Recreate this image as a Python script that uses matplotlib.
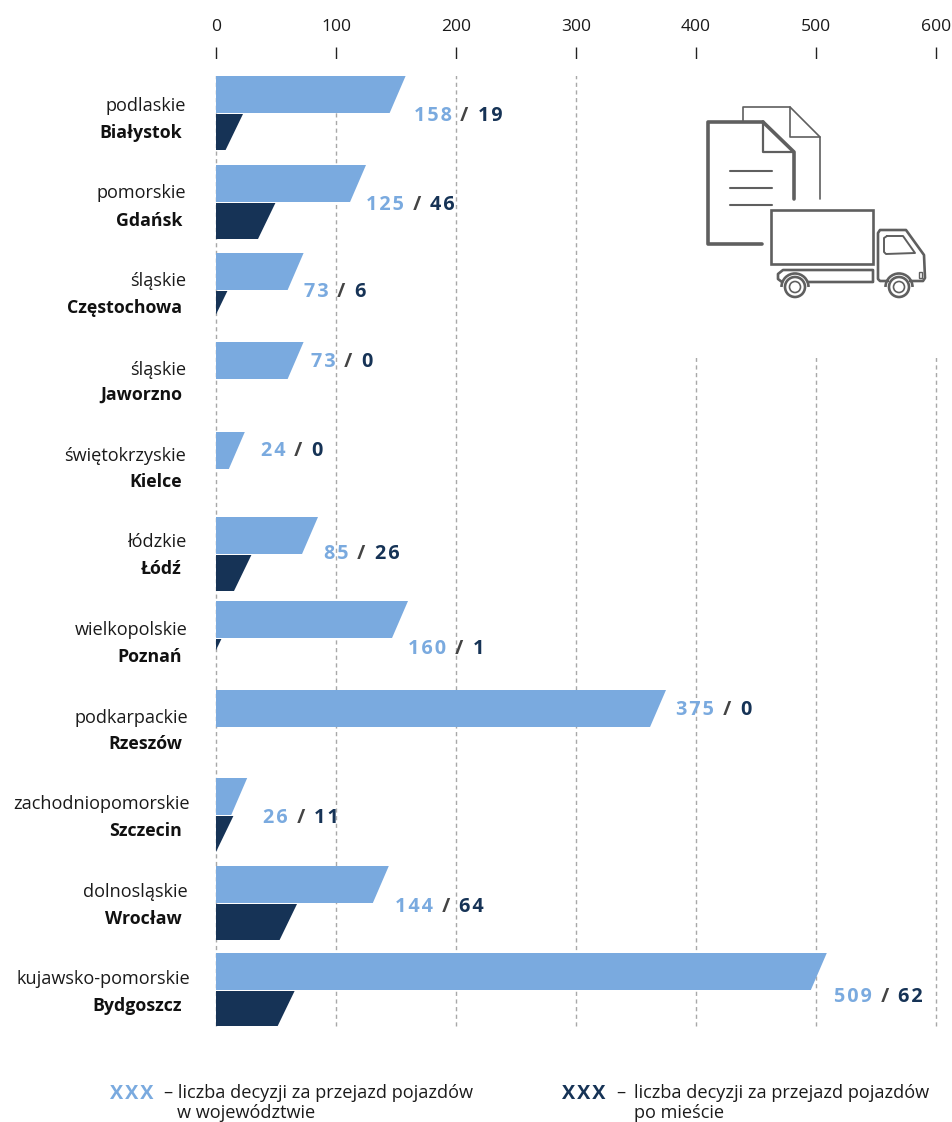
import matplotlib
matplotlib.use("Agg")
import matplotlib.pyplot as plt
from matplotlib.patches import Polygon, Rectangle, Circle, Arc

plt.rcParams['font.family'] = ['Open Sans', 'DejaVu Sans']

regions = ['podlaskie', 'pomorskie', 'śląskie', 'śląskie', 'świętokrzyskie', 'łódzkie',
           'wielkopolskie', 'podkarpackie', 'zachodniopomorskie', 'dolnosląskie', 'kujawsko-pomorskie']
cities = ['Białystok', 'Gdańsk', 'Częstochowa', 'Jaworzno', 'Kielce', 'Łódź',
          'Poznań', 'Rzeszów', 'Szczecin', 'Wrocław', 'Bydgoszcz']
region_decisions = [158, 125, 73, 73, 24, 85, 160, 375, 26, 144, 509]
city_decisions = [19, 46, 6, 0, 0, 26, 1, 0, 11, 64, 62]
ticks = [0, 100, 200, 300, 400, 500, 600]

LIGHT = '#7aaadf'
DARK = '#163356'
GREY = '#5f5f5f'
HAIR = '\u200a'
FS = 13.1
FSB = 12.8
FSV = 14.2

# layout, in pixels of the picture
W, H = 953, 1122
X0, PX = 216, 1.2
bar_tops = [76, 165, 253, 342, 432, 517, 601, 690, 778, 866, 953]
region_y = [106, 193, 281, 370, 456, 542, 630, 718, 804, 892, 979]
region_x = [186, 186, 186, 186, 186, 186, 188, 188, 190, 188, 190]
city_y = [133, 221, 308, 395, 482, 569, 657, 744, 831, 919, 1006]
label_y = [116, 205, 292, 362, 451, 554, 649, 710, 818, 907, 997]
label_gap = [8, 0, 0, 7, 16, 6, 0, 10, 16, 6, 7]

fig = plt.figure(figsize=(W / 100, H / 100), dpi=100)
fig.patch.set_facecolor('white')
top, bottom = 59, 1026
ax = fig.add_axes([X0 / W, 1 - bottom / H, 720 / W, (bottom - top) / H])
ax.set_xlim(0, 600)
ax.set_ylim(bottom, top)
for s in ax.spines.values():
    s.set_visible(False)
ax.set_xticks(ticks)
ax.set_yticks([])
ax.xaxis.tick_top()
ax.tick_params(axis='x', length=8.6, width=1, color='#222222', labelsize=12.6, labelcolor='#1a1a1a', pad=8.5)
ax.grid(axis='x', color='#a8a8a8', linestyle=(0, (3, 2.5)), linewidth=1, clip_on=False)
ax.set_axisbelow(True)

# white areas that hide the grid
ax.add_patch(Rectangle((-5, top), 610, 17, fc='white', ec='none', zorder=1, clip_on=False))
ax.add_patch(Rectangle((345, top), 270, 299, fc='white', ec='none', zorder=1, clip_on=False))


def skew_bar(value, y0, y1, offset, colour):
    # right edge leans: top end is longer than the bottom end
    right_top = value + offset[0]
    right_bot = value + offset[0] - offset[1]
    if right_bot >= 0:
        pts = [(0, y0), (right_top, y0), (right_bot, y1), (0, y1)]
    else:
        cut = y0 + (y1 - y0) * right_top / offset[1]
        pts = [(0, y0), (right_top, y0), (0, cut)]
    ax.add_patch(Polygon(pts, closed=True, fc=colour, ec='none', zorder=2))


for i in range(len(regions)):
    t = bar_tops[i]
    skew_bar(region_decisions[i], t, t + 37, (0, 13.3), LIGHT)
    if city_decisions[i] > 0:
        skew_bar(city_decisions[i], t + 38, t + 74, (3.5, 14.5), DARK)

# overlay in picture pixels for the labels, legend and icon
ov = fig.add_axes([0, 0, 1, 1], facecolor='none')
ov.set_xlim(0, W)
ov.set_ylim(H, 0)
ov.axis('off')


def spaced(v):
    return HAIR.join(str(v))


for i in range(len(regions)):
    ov.text(region_x[i], region_y[i], regions[i], ha='right', va='center', fontsize=FS, color='#1a1a1a')
    ov.text(182, city_y[i], cities[i], ha='right', va='center', fontsize=FSB, fontweight='bold', color='#111111')
    sx = X0 + region_decisions[i] * PX + label_gap[i]
    a = ov.text(sx, label_y[i], spaced(region_decisions[i]), ha='left', va='center', fontsize=FSV,
                fontweight='bold', color=LIGHT)
    b = ov.annotate(HAIR + HAIR + ' / ' + HAIR + HAIR, xy=(1, 0.5), xycoords=a, va='center', ha='left',
                    fontsize=FSV, fontweight='bold', color='#444444')
    ov.annotate(spaced(city_decisions[i]), xy=(1, 0.5), xycoords=b, va='center', ha='left', fontsize=FSV,
                fontweight='bold', color=DARK)

# legend
ov.text(110, 1094, spaced('XXX'), va='center', fontsize=FSV, fontweight='bold', color=LIGHT)
ov.text(164, 1093, '– liczba decyzji za przejazd pojazdów', va='center', fontsize=FS, color='#1a1a1a')
ov.text(177, 1113, 'w województwie', va='center', fontsize=FS, color='#1a1a1a')
ov.text(562, 1094, spaced('XXX'), va='center', fontsize=FSV, fontweight='bold', color=DARK)
ov.text(616, 1093, '–', va='center', fontsize=FS, color='#1a1a1a')
ov.text(634, 1093, 'liczba decyzji za przejazd pojazdów', va='center', fontsize=FS, color='#1a1a1a')
ov.text(634, 1113, 'po mieście', va='center', fontsize=FS, color='#1a1a1a')


# icon
def path(pts, lw):
    xs = [p[0] for p in pts]
    ys = [p[1] for p in pts]
    ov.plot(xs, ys, color=GREY, lw=lw, solid_capstyle='round', solid_joinstyle='round')


path([(743, 121), (743, 107), (790, 107), (820, 137), (820, 199)], 1.2)
path([(790, 107), (790, 137), (820, 137)], 1.2)
path([(763, 122), (708, 122), (708, 244), (762, 244)], 2.6)
path([(763, 122), (794, 152), (794, 199)], 2.6)
path([(763, 122), (763, 152), (794, 152)], 1.6)
for ly in (171, 188, 205):
    path([(730, ly), (772, ly)], 1.5)
ov.add_patch(Rectangle((771, 210), 102, 54, fc='white', ec=GREY, lw=1.9, zorder=3))
path([(888, 281), (880, 281), (878, 279), (878, 233), (880, 230), (906, 230), (924, 255), (925, 278), (923, 281), (910, 281)], 1.9)
path([(887, 236), (903, 236), (915, 253), (886, 254), (884, 252), (884, 238), (887, 236)], 1.4)
path([(808, 282), (873, 282), (873, 270), (783, 270), (778, 274), (778, 279), (782, 282)], 1.9)
ov.add_patch(Rectangle((919, 272), 3, 6, fc='white', ec=GREY, lw=1, zorder=3))
for cx in (795, 899):
    ov.add_patch(Arc((cx, 287), 27, 27, theta1=180, theta2=360, ec=GREY, lw=1.9, zorder=3))
    ov.add_patch(Circle((cx, 287), 10, fc='white', ec=GREY, lw=1.9, zorder=4))
    ov.add_patch(Circle((cx, 287), 5.5, fc='white', ec=GREY, lw=1.2, zorder=4))

fig.savefig('out.png', dpi=100, facecolor='white')
